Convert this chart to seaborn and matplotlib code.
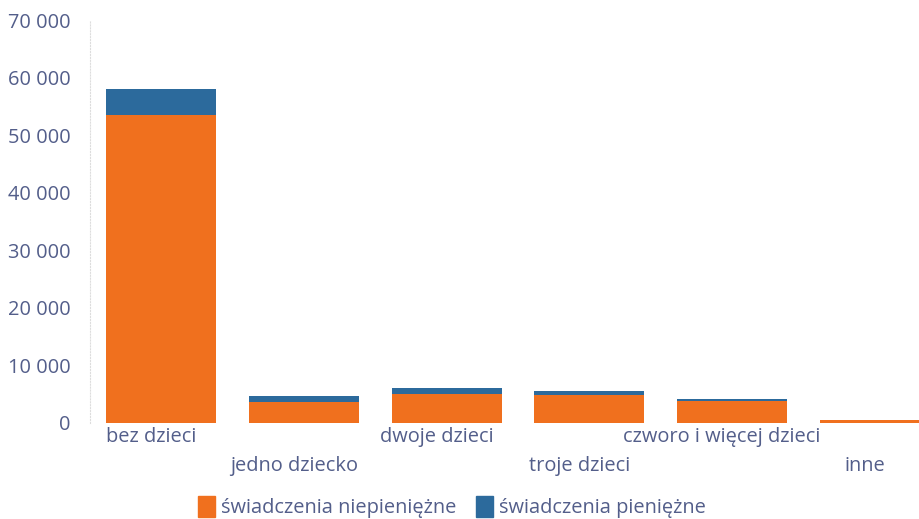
import numpy as np
import pandas as pd
import matplotlib
matplotlib.use("Agg")
import matplotlib.pyplot as plt
import seaborn as sns
from matplotlib.patches import Patch

# ~ data
categories = ["bez dzieci", "jedno dziecko", "dwoje dzieci", "troje dzieci",
              "czworo i więcej dzieci", "inne"]
niepieniezne = [53500, 3700, 5000, 4800, 3800, 500]
pieniezne = [4600, 1000, 1100, 750, 400, 100]
yticks = [0, 10000, 20000, 30000, 40000, 50000, 60000, 70000]

orange = "#f0701e"
blue = "#2c6a9c"
txt = "#535e8a"
fs = 14.4

sns.set_style("white")
plt.rcParams['font.family'] = ['Open Sans', 'DejaVu Sans']

df = pd.DataFrame({"kat": categories,
                   "niep": niepieniezne,
                   "total": np.array(niepieniezne) + np.array(pieniezne)})

fig = plt.figure(figsize=(9.19, 5.19), dpi=100)
ax = fig.add_axes([90/919, 1-423/519, 829/919, 403/519])

# blue on the bottom = totals, orange drawn on top
sns.barplot(data=df, x="kat", y="total", color=blue, width=0.77,
            saturation=1, linewidth=0, ax=ax)
sns.barplot(data=df, x="kat", y="niep", color=orange, width=0.77,
            saturation=1, linewidth=0, ax=ax)

ax.set_xlim(-0.5, 5.31)
ax.set_ylim(0, 70000)
ax.set_yticks(yticks)
ax.set_yticklabels([f"{v:,}".replace(",", " ") for v in yticks])
ax.set_xlabel("")
ax.set_ylabel("")

# ~ staggered labels: even -> major ticks, odd -> minor ticks (a bit left of bar centre)
sh = 0.07
ax.set_xticks([i - sh for i in [0, 2, 4]])
ax.set_xticklabels([categories[i] for i in [0, 2, 4]])
ax.set_xticks([i - sh for i in [1, 3, 5]], minor=True)
ax.set_xticklabels([categories[i] for i in [1, 3, 5]], minor=True)
ax.tick_params(axis="x", which="major", length=0, pad=3, labelsize=fs, labelcolor=txt)
ax.tick_params(axis="x", which="minor", length=0, pad=24, labelsize=fs, labelcolor=txt)
ax.tick_params(axis="y", length=0, pad=14, labelsize=fs, labelcolor=txt)

for s in ["top", "right", "bottom"]:
    ax.spines[s].set_visible(False)
ax.spines["left"].set_color("#dddddd")
ax.spines["left"].set_linestyle(":")
ax.spines["left"].set_linewidth(0.8)

handles = [Patch(color=orange, label="świadczenia niepieniężne"),
           Patch(color=blue, label="świadczenia pieniężne")]
leg = fig.legend(handles=handles, loc="center", bbox_to_anchor=(452/919, 1-507/519),
                 ncol=2, frameon=False, fontsize=fs, handlelength=0.85,
                 handleheight=1.2, handletextpad=0.3, columnspacing=1.0)
for t in leg.get_texts():
    t.set_color(txt)

fig.savefig("out.png", dpi=100)
